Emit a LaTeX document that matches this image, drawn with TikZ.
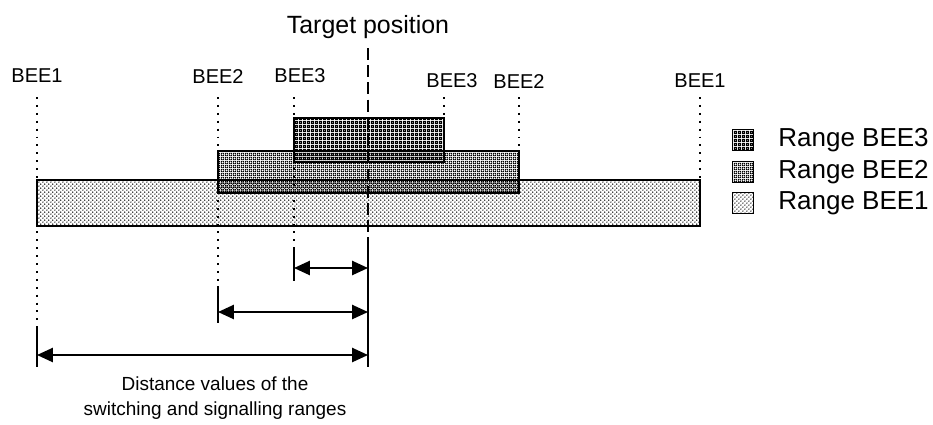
\documentclass[tikz,border=0pt]{standalone}
\usepackage{fontspec}
\setmainfont{Liberation Sans}
\usetikzlibrary{arrows.meta, patterns}

% fill patterns of the three ranges
\pgfdeclarepatternformonly{beeone}{\pgfqpoint{0pt}{0pt}}{\pgfqpoint{2.2pt}{2.2pt}}{\pgfqpoint{2.2pt}{2.2pt}}{
	\pgfpathcircle{\pgfqpoint{0.55pt}{0.55pt}}{0.42pt}
	\pgfpathcircle{\pgfqpoint{1.65pt}{1.65pt}}{0.42pt}
	\pgfusepath{fill}}
\pgfdeclarepatternformonly{beetwo}{\pgfqpoint{0pt}{0pt}}{\pgfqpoint{2pt}{2pt}}{\pgfqpoint{2pt}{2pt}}{
	\pgfpathrectangle{\pgfqpoint{0pt}{0pt}}{\pgfqpoint{2pt}{2pt}}
	\pgfpathcircle{\pgfqpoint{1pt}{1pt}}{0.86pt}
	\pgfseteorule
	\pgfusepath{fill}}
\pgfdeclarepatternformonly{beethree}{\pgfqpoint{0pt}{0pt}}{\pgfqpoint{2pt}{2pt}}{\pgfqpoint{2pt}{2pt}}{
	\pgfpathrectangle{\pgfqpoint{0pt}{0pt}}{\pgfqpoint{2pt}{2pt}}
	\pgfpathcircle{\pgfqpoint{1pt}{1pt}}{0.45pt}
	\pgfseteorule
	\pgfusepath{fill}}

\tikzset{
	range/.style={draw, line width=1.1pt, pattern=#1},
	keybox/.style={draw, line width=1.1pt, pattern=#1, minimum width=0.42cm, minimum height=0.42cm, inner sep=0pt},
	beelabel/.style={inner sep=0pt, font=\fontsize{11.4}{13}\selectfont},
	keylabel/.style={inner sep=0pt, anchor=west, font=\fontsize{14.8}{17}\selectfont},
	limitline/.style={line width=1.1pt, dash pattern=on 1.1pt off 3.4pt},
	targetline/.style={line width=1.1pt, dash pattern=on 6.8pt off 3pt},
	tick/.style={line width=1.1pt},
	distarr/.style={{Triangle[length=9pt, width=8pt]}-{Triangle[length=9pt, width=8pt]}, line width=1.1pt},
}

\begin{document}
\begin{tikzpicture}[x=0.02cm, y=-0.02cm]
	\useasboundingbox (0,0) rectangle (933,424);

	% labels of the limits
	\node[inner sep=0pt, font=\fontsize{14.2}{16}\selectfont] (target) at (368,27) {Target position};
	\node[beelabel] (lone) at (37,76) {BEE1};
	\node[beelabel] (ltwo) at (218,76) {BEE2};
	\node[beelabel] (lthree) at (300,76) {BEE3};
	\node[beelabel] (rthree) at (452,81) {BEE3};
	\node[beelabel] (rtwo) at (519,81) {BEE2};
	\node[beelabel] (rone) at (700,81) {BEE1};

	% ranges
	\draw[range=beeone] (37,180) rectangle (700,226);
	\draw[range=beetwo] (218,151) rectangle (519,193);
	\draw[range=beethree] (294,118) rectangle (444,162);

	% limit lines
	\coordinate (tgttop) at (368,48);
	\coordinate (tgtmid) at (368,249);
	\coordinate (tgtbot) at (368,367);
	\coordinate (onetop) at (37,97);
	\coordinate (onemid) at (37,327);
	\coordinate (onebot) at (37,367);
	\coordinate (twotop) at (218,97);
	\coordinate (twomid) at (218,286);
	\coordinate (twobot) at (218,323);
	\coordinate (threetop) at (294,97);
	\coordinate (threemid) at (294,248);
	\coordinate (threebot) at (294,281);
	\draw[targetline] (tgttop) -- (tgtmid);
	\draw[tick] (tgtmid) -- (tgtbot);
	\draw[limitline] (onetop) -- (onemid);
	\draw[tick] (onemid) -- (onebot);
	\draw[limitline] (twotop) -- (twomid);
	\draw[tick] (twomid) -- (twobot);
	\draw[limitline] (threetop) -- (threemid);
	\draw[tick] (threemid) -- (threebot);
	\draw[limitline] (444,97) coordinate (rthreetop) -- (444,118) coordinate (rthreebot);
	\draw[limitline] (519,97) coordinate (rtwotop) -- (519,151) coordinate (rtwobot);
	\draw[limitline] (700,97) coordinate (ronetop) -- (700,180) coordinate (ronebot);

	% distances
	\draw[distarr] (threebot |- 0,268) -- (tgtbot |- 0,268);
	\draw[distarr] (twobot |- 0,312) -- (tgtbot |- 0,312);
	\draw[distarr] (onebot |- 0,355) -- (tgtbot |- 0,355);
	\node[inner sep=0pt, align=center, font=\fontsize{10.8}{14}\selectfont] (dist) at (215,398) {Distance values of the\\switching and signalling ranges};

	% key
	\node[keybox=beethree] (kthree) at (743,140) {};
	\node[keybox=beetwo] (ktwo) at (743,172) {};
	\node[keybox=beeone] (kone) at (743,203) {};
	\node[keylabel] at (778,140) {Range BEE3};
	\node[keylabel] at (778,172) {Range BEE2};
	\node[keylabel] at (778,203) {Range BEE1};
\end{tikzpicture}
\end{document}
